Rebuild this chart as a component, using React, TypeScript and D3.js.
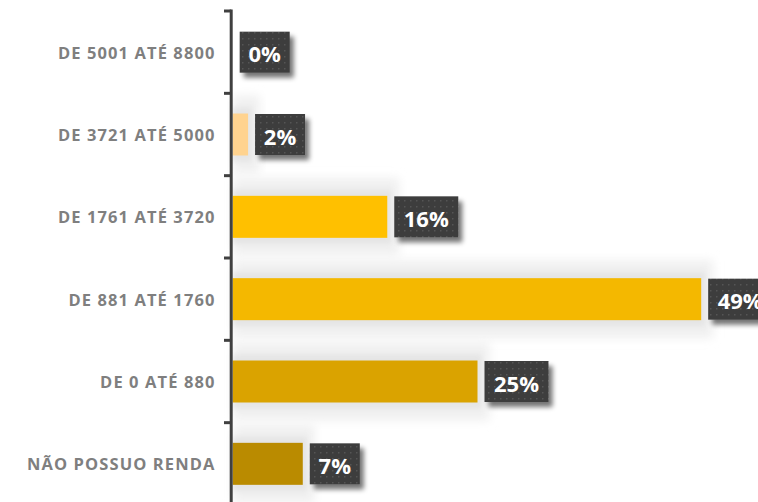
import React from "react";
import * as d3 from "d3";

const categories = [
  "DE 5001 ATÉ 8800",
  "DE 3721 ATÉ 5000",
  "DE 1761 ATÉ 3720",
  "DE 881 ATÉ 1760",
  "DE 0 ATÉ 880",
  "NÃO POSSUO RENDA",
];
const values = [0, 1.6, 16.1, 48.8, 25.5, 7.3];
const valueLabels = ["0%", "2%", "16%", "49%", "25%", "7%"];
const barColors = ["#FFD08A", "#FFD38F", "#FFC000", "#F4B800", "#DAA300", "#BA8B00"];

const W = 758;
const H = 502;
const axisX = 231.2;
const x0 = 232.7;

export default function App() {
  const y = d3.scaleBand<string>().domain(categories).range([11, 505]).paddingInner(0).paddingOuter(0);
  const x = d3.scaleLinear().domain([0, 50]).range([x0, x0 + 480]);
  const bw = y.bandwidth();
  const barH = 42;
  const ticks = d3.range(categories.length + 1).map((i) => 11 + i * bw);

  const labelWidth = (s: string) => (s.length === 2 ? 50 : 64);

  return (
    <svg width={W} height={H} style={{ position: "absolute", left: 0, top: 0, background: "#fff" }}>
      <defs>
        <filter id="soft" x="-20%" y="-60%" width="140%" height="220%">
          <feGaussianBlur stdDeviation="5" />
        </filter>
        <filter id="soft2" x="-20%" y="-60%" width="140%" height="220%">
          <feGaussianBlur stdDeviation="2.5" />
        </filter>
        <filter id="boxShadow" x="-30%" y="-30%" width="160%" height="170%">
          <feGaussianBlur in="SourceAlpha" stdDeviation="2.5" />
          <feOffset dx="4" dy="5" result="ob" />
          <feComponentTransfer>
            <feFuncA type="linear" slope="0.55" />
          </feComponentTransfer>
          <feMerge>
            <feMergeNode />
            <feMergeNode in="SourceGraphic" />
          </feMerge>
        </filter>
        <pattern id="dots" width="6" height="6" patternUnits="userSpaceOnUse">
          <rect width="6" height="6" fill="#3d3d3d" />
          <rect x="2" y="2" width="1.5" height="1.5" fill="#555" />
        </pattern>
      </defs>

      {/* soft glow around bars */}
      {categories.map((c, i) => {
        if (values[i] <= 0) return null;
        const cy = (y(c) as number) + bw / 2;
        const w = x(values[i]) - x0;
        return (
          <g key={"bg" + c}>
            <rect x={x0} y={cy - barH / 2 - 18} width={w + 12} height={barH + 36} fill="#f0f0f0" filter="url(#soft)" />
            <rect x={x0} y={cy - barH / 2 - 6} width={w + 4} height={barH + 12} fill="#e5e5e5" filter="url(#soft2)" />
          </g>
        );
      })}

      {/* bars */}
      {categories.map((c, i) => (
        <rect
          key={"b" + c}
          x={x0}
          y={(y(c) as number) + bw / 2 - barH / 2}
          width={Math.max(0, x(values[i]) - x0)}
          height={barH}
          fill={barColors[i]}
        />
      ))}

      {/* axis */}
      <line x1={axisX} x2={axisX} y1={9.5} y2={H + 5} stroke="#404040" strokeWidth={3} />
      {ticks.map((t, i) => (
        <line key={"t" + i} x1={224} x2={axisX} y1={t} y2={t} stroke="#404040" strokeWidth={3} />
      ))}

      {/* category labels */}
      {categories.map((c) => (
        <text
          key={"l" + c}
          x={215.5}
          y={(y(c) as number) + bw / 2}
          textAnchor="end"
          dominantBaseline="central"
          fontFamily="'Open Sans', sans-serif"
          fontWeight={700}
          fontSize={16.5}
          letterSpacing={1.1}
          fill="#7f7f7f"
        >
          {c}
        </text>
      ))}

      {/* value labels */}
      {categories.map((c, i) => {
        const bx = Math.max(x(values[i]), x0) + 7;
        const cy = (y(c) as number) + bw / 2;
        const w = labelWidth(valueLabels[i]);
        return (
          <g key={"v" + c}>
            <rect x={bx} y={cy - 20.5} width={w} height={41} fill="url(#dots)" filter="url(#boxShadow)" />
            <text
              x={bx + w / 2}
              y={cy + 1}
              textAnchor="middle"
              dominantBaseline="central"
              fontFamily="'Open Sans', sans-serif"
              fontWeight={700}
              fontSize={22}
              fill="#fff"
            >
              {valueLabels[i]}
            </text>
          </g>
        );
      })}
    </svg>
  );
}
